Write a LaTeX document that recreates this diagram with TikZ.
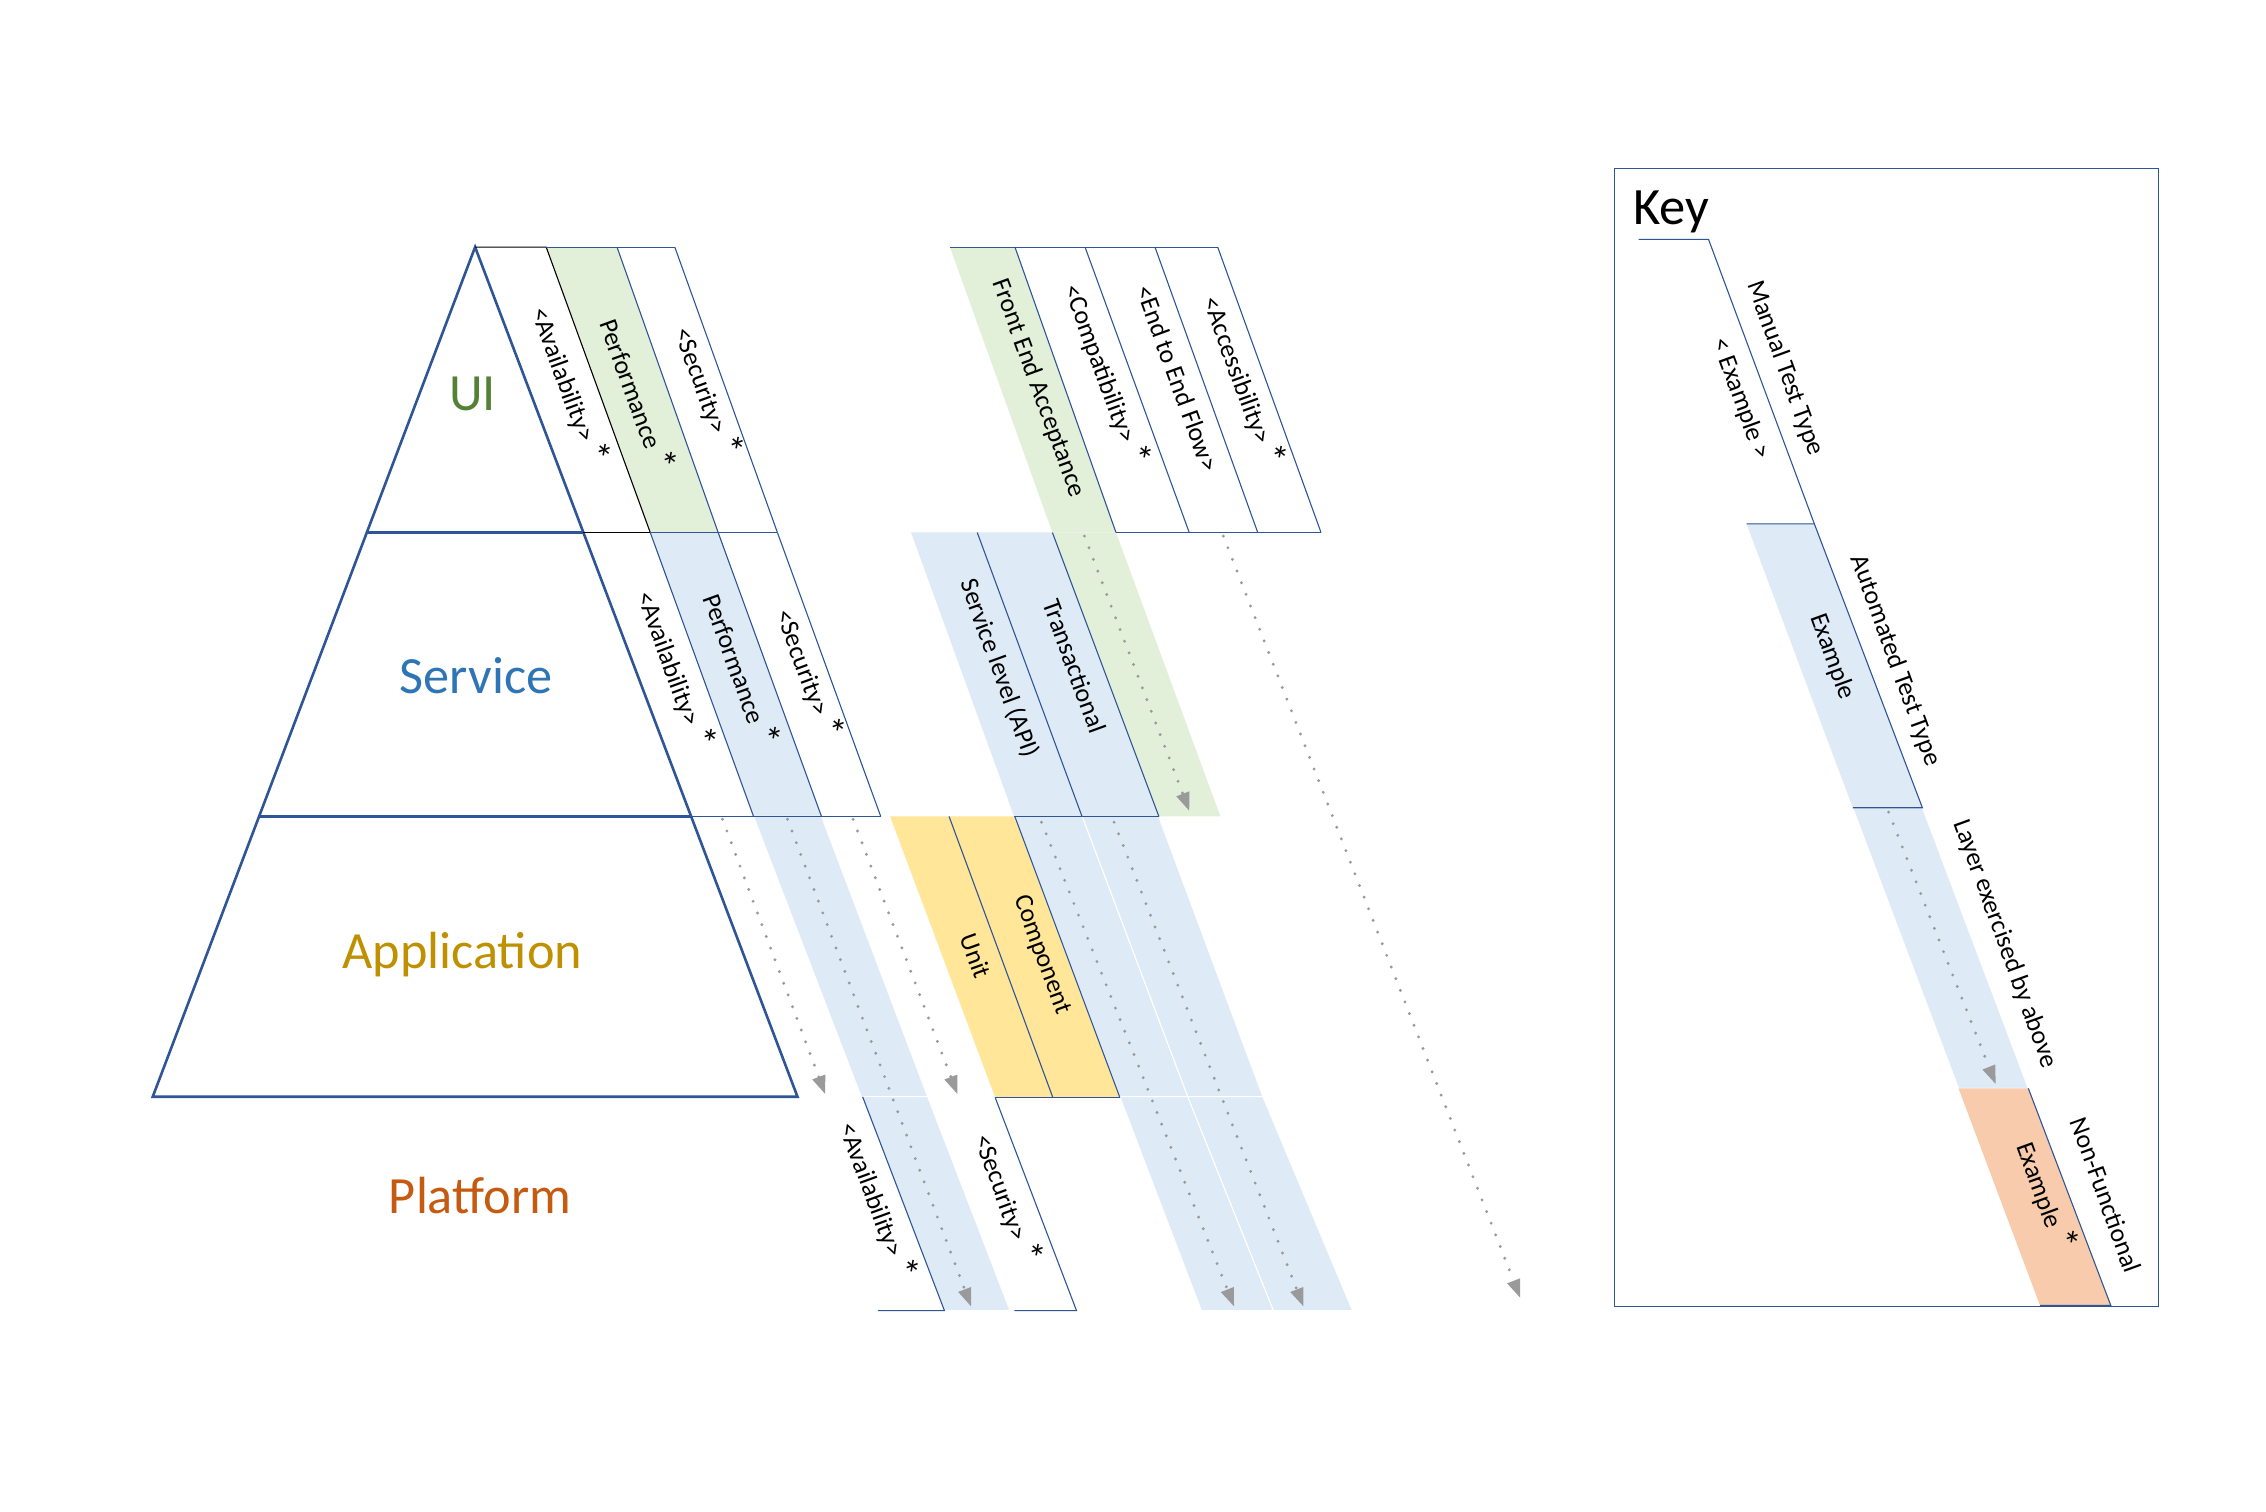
\documentclass[tikz,border=0pt]{standalone}
\usepackage{fontspec}
\setmainfont{Carlito}
\usetikzlibrary{arrows.meta}
\definecolor{lineblue}{HTML}{2F5597}
\definecolor{fgreen}{HTML}{E2F0D9}
\definecolor{fblue}{HTML}{DEEBF7}
\definecolor{fyellow}{HTML}{FFE699}
\definecolor{forange}{HTML}{F8CBAD}
\definecolor{dotgray}{HTML}{9A9A9A}
\definecolor{uigreen}{HTML}{548235}
\definecolor{svblue}{HTML}{2E75B6}
\definecolor{appgold}{HTML}{BF9000}
\definecolor{platorange}{HTML}{C55A11}
\newcommand\mystar{{\fontsize{38}{30}\selectfont *}}
\begin{document}
\begin{tikzpicture}[x=1.445pt,y=-1.445pt,
  thinline/.style={draw=lineblue,line width=1.1pt},
  blackline/.style={draw=black,line width=1.1pt},
  pyr/.style={draw=lineblue,line width=2.6pt,line join=miter},
  bandlabel/.style={font=\fontsize{26}{30}\selectfont,rotate=-70,inner sep=0pt,anchor=center},
  layerlabel/.style={font=\fontsize{52.3}{60}\selectfont,inner sep=0pt,anchor=base},
  exarrow/.style={draw=dotgray,line width=3.2pt,line cap=round,dash pattern=on 0pt off 12.5pt,
    -{Triangle[length=18pt,width=14pt,line width=0pt,fill=dotgray]}},
  gfill/.style={fill=fgreen},
  bfill/.style={fill=fblue},
  yfill/.style={fill=fyellow},
  ofill/.style={fill=forange},
  bcol/.style={fill=fblue,draw=white,line width=1pt},
]
\useasboundingbox (0,0) rectangle (1568.2,1045.7);
\fill[white] (0,0) rectangle (1568.2,1045.7);

% ---------- fills ----------
% UI left group
\fill[gfill] (378,171) -- (427,171) -- (497,368.5) -- (450,368.5) -- cycle;
% Service left group
\fill[bfill] (450,368.5) -- (497,368.5) -- (568.5,565) -- (521.5,565) -- cycle;
% Application / platform continuation of Performance
\path[bcol] (521.5,565) -- (568.5,565) -- (642,759) -- (596,759) -- cycle;
\path[bcol] (596,759) -- (642,759) -- (699,907) -- (653.6,907) -- cycle;
% Unit / Component
\fill[yfill] (616,565) -- (656.8,565) -- (728.6,759.5) -- (688.7,759.5) -- cycle;
\fill[yfill] (656.8,565) -- (702.3,565) -- (775,759.5) -- (728.6,759.5) -- cycle;
% continuation columns of Service level / Transactional
\path[bcol] (702.3,565) -- (749,565) -- (822,759) -- (775,759) -- cycle;
\path[bcol] (749,565) -- (801.8,565) -- (874,759) -- (822,759) -- cycle;
\path[bcol] (775,759) -- (822,759) -- (881.3,907) -- (831.4,907) -- cycle;
\path[bcol] (822,759) -- (874,759) -- (936,907) -- (881.3,907) -- cycle;
% Service middle group
\fill[bfill] (630.5,368.5) -- (676.3,368.5) -- (748.8,565) -- (701.8,565) -- cycle;
\fill[bfill] (676.3,368.5) -- (728.3,368.5) -- (802,565) -- (748.8,565) -- cycle;
\fill[gfill] (728.3,368.5) -- (772.3,368.5) -- (844.6,565) -- (802,565) -- cycle;
% UI right group
\fill[gfill] (657.4,171) -- (702.4,171) -- (772.3,368.5) -- (728.3,368.5) -- cycle;

% ---------- pyramid ----------
\draw[pyr] (105.7,759) -- (328.8,171) -- (551.9,759) -- cycle;
\draw[pyr] (253.85,368.5) -- (403.75,368.5);
\draw[pyr] (179.3,565) -- (478.3,565);

% ---------- lines ----------
% UI left group
\draw[blackline] (328.8,171) -- (378,171) -- (450,368.5);
\draw[blackline] (403.75,368.5) -- (450,368.5);
\draw[thinline] (378,171) -- (467,171);
\draw[thinline] (427,171) -- (497,368.5);
\draw[thinline] (467,171) -- (538,368.5);
\draw[thinline] (450,368.5) -- (538,368.5);
% Service left group
\draw[thinline] (450,368.5) -- (521.5,565);
\draw[thinline] (497,368.5) -- (568.5,565);
\draw[thinline] (538,368.5) -- (609.5,565);
\draw[thinline] (478.3,565) -- (609.5,565);
% Unit / Component
\draw[thinline] (656.8,565) -- (728.6,759.5);
\draw[thinline] (702.3,565) -- (775,759.5);
\draw[thinline] (688.7,759.5) -- (775,759.5);
% Platform bands
\draw[thinline] (597,759) -- (653.6,907) -- (607.5,907);
\draw[thinline] (688.7,759.5) -- (745,907) -- (702,907);
% Service middle group
\draw[thinline] (676.3,368.5) -- (748.8,565);
\draw[thinline] (728.3,368.5) -- (802,565);
\draw[thinline] (701.8,565) -- (802,565);
% UI right group
\draw[thinline] (657.4,171) -- (842.7,171);
\draw[thinline] (702.4,171) -- (772.3,368.5);
\draw[thinline] (750.9,171) -- (823,368.5);
\draw[thinline] (799.3,171) -- (870.4,368.5);
\draw[thinline] (842.7,171) -- (914.2,368.5);
\draw[thinline] (772.3,368.5) -- (914.2,368.5);

% ---------- key ----------
\draw[thinline] (1117,116.5) rectangle (1493.5,904);
\fill[bfill] (1208.7,362.5) -- (1255.6,362.5) -- (1330.4,559) -- (1282.2,559) -- cycle;
\path[bcol] (1282.2,559) -- (1330.4,559) -- (1403.7,753.2) -- (1355.4,753.2) -- cycle;
\fill[ofill] (1355.4,753.2) -- (1403.7,753.2) -- (1460.8,903.5) -- (1411.8,903.5) -- cycle;
\draw[thinline] (1134,165.7) -- (1182.4,165.7) -- (1255.6,362.5);
\draw[thinline] (1208.7,362.5) -- (1255.6,362.5) -- (1330.4,559) -- (1282.2,559);
\draw[thinline] (1403.7,753.2) -- (1460.8,903.5) -- (1411.8,903.5);

% ---------- arrow coordinates ----------
\coordinate (a1s) at (500,567);    \coordinate (a1e) at (571,757);
\coordinate (a2s) at (545,567);    \coordinate (a2e) at (672,904);
\coordinate (a3s) at (590.4,567);  \coordinate (a3e) at (662.5,757);
\coordinate (a4s) at (750.5,371);  \coordinate (a4e) at (823,561);
\coordinate (a5s) at (846.6,371);  \coordinate (a5e) at (1052,898);
\coordinate (a6s) at (720.8,569);  \coordinate (a6e) at (854,904);
\coordinate (a7s) at (771,569);    \coordinate (a7e) at (902,904);
\coordinate (a8s) at (1307,562);   \coordinate (a8e) at (1381,750);
\foreach \n in {1,...,8}{\draw[exarrow] (a\n s) -- (a\n e);}

% ---------- layer labels ----------
\node[layerlabel,text=uigreen] (lui) at (327,284.2) {UI};
\node[layerlabel,text=svblue] (lsv) at (329.4,480) {Service};
\node[layerlabel,text=appgold] (lap) at (320,670.3) {Application};
\node[layerlabel,text=platorange] (lpl) at (332.2,840) {Platform};

% ---------- band labels ----------
\node[bandlabel] (uiav) at (394.7,266.4) {<Availability> \mystar};
\node[bandlabel] (uipf) at (442.3,272.8) {Performance \mystar};
\node[bandlabel] (uisc) at (490.2,271) {<Security> \mystar};
\node[bandlabel] (svav) at (467.8,463.1) {<Availability> \mystar};
\node[bandlabel] (svpf) at (514,463) {Performance \mystar};
\node[bandlabel] (svsc) at (560.4,466) {<Security> \mystar};
\node[bandlabel] (svapi) at (691.7,462.6) {Service level (API)};
\node[bandlabel] (svtr) at (744,461) {Transactional};
\node[bandlabel] (fea) at (718.6,268.8) {Front End Acceptance};
\node[bandlabel] (comp) at (766.4,258.9) {<Compatibility> \mystar};
\node[bandlabel] (e2e) at (815,261.8) {<End to End Flow>};
\node[bandlabel] (acc) at (861,263.5) {<Accessibility> \mystar};
\node[bandlabel] (unit) at (675.3,661.5) {Unit};
\node[bandlabel] (cmpn) at (720.9,660.9) {Component};
\node[bandlabel] (plav) at (608,831) {<Availability> \mystar};
\node[bandlabel] (plsc) at (697.8,829.3) {<Security> \mystar};

% ---------- key labels ----------
\node[font=\fontsize{52.5}{60}\selectfont,inner sep=0pt,anchor=base west] (key) at (1130,155.7) {Key};
\node[bandlabel] (kman) at (1235.3,254.9) {Manual Test Type};
\node[bandlabel] (kex1) at (1204.5,276) {< Example >};
\node[bandlabel] (kex2) at (1268,454.4) {Example};
\node[bandlabel] (kauto) at (1311.8,457.4) {Automated Test Type};
\node[bandlabel] (klayer) at (1387.6,653.3) {Layer exercised by above};
\node[bandlabel] (kex3) at (1416.4,827.5) {Example \mystar};
\node[bandlabel] (knf) at (1457.3,827) {Non-Functional};
\end{tikzpicture}
\end{document}
